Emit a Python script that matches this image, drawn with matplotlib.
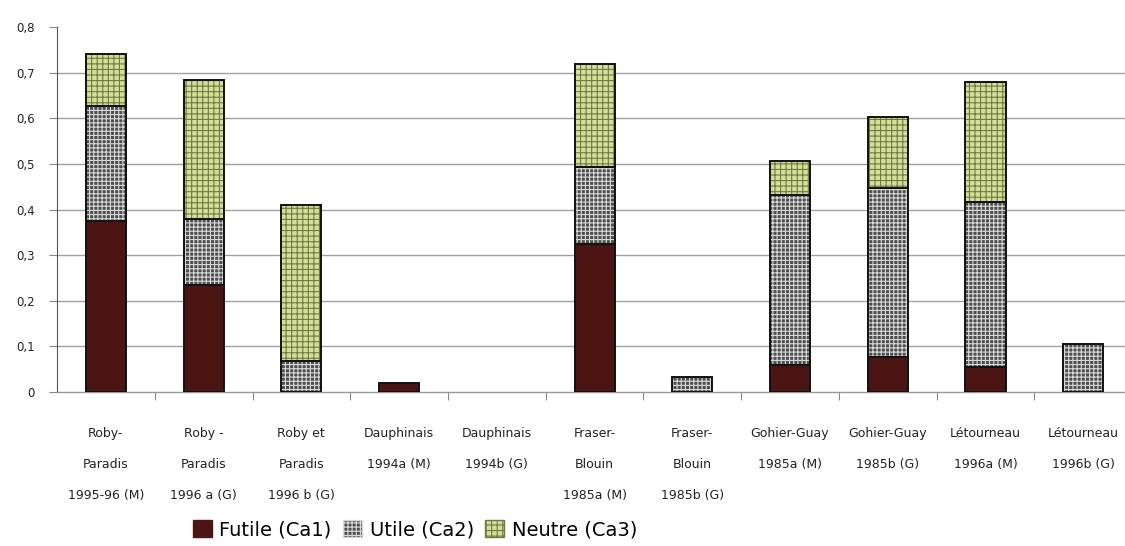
import numpy as np
import matplotlib.pyplot as plt
from matplotlib.patches import Patch

# studies on the x axis (three-line labels)
studies = [
    "Roby-\nParadis\n1995-96 (M)",
    "Roby -\nParadis\n1996 a (G)",
    "Roby et\nParadis\n1996 b (G)",
    "Dauphinais\n1994a (M)",
    "Dauphinais\n1994b (G)",
    "Fraser-\nBlouin\n1985a (M)",
    "Fraser-\nBlouin\n1985b (G)",
    "Gohier-Guay\n1985a (M)",
    "Gohier-Guay\n1985b (G)",
    "Létourneau\n1996a (M)",
    "Létourneau\n1996b (G)",
]

# stacked proportions per study
futile = [0.375, 0.235, 0.0, 0.02, 0.0, 0.325, 0.0, 0.06, 0.077, 0.055, 0.0]
utile = [0.252, 0.145, 0.068, 0.0, 0.0, 0.168, 0.032, 0.373, 0.37, 0.362, 0.105]
neutre = [0.114, 0.305, 0.342, 0.0, 0.0, 0.227, 0.0, 0.074, 0.156, 0.263, 0.0]

series_names = ["Futile (Ca1)", "Utile (Ca2)", "Neutre (Ca3)"]

C_FUT = "#4a1512"
C_UTI = "#4f4f4f"
C_NEU = "#d3df96"

plt.rcParams["font.family"] = ["DejaVu Sans"]
plt.rcParams["hatch.linewidth"] = 0.8

fig = plt.figure(figsize=(11.25, 5.46), dpi=100)
ax = fig.add_axes([0.0507, 0.282, 0.9556, 0.668])

x = np.arange(len(studies))
w = 0.41
f = np.array(futile)
u = np.array(utile)
n = np.array(neutre)


def stack(vals, base, face, hatch, hcol):
    # fill + hatch, then a plain black outline on top
    ax.bar(x, vals, w, bottom=base, color=face, edgecolor=hcol,
           hatch=hatch, linewidth=0, zorder=3)
    mask = vals > 0
    ax.bar(x[mask], vals[mask], w, bottom=base[mask], fill=False,
           edgecolor="#111111", linewidth=1.4, zorder=4)


stack(f, np.zeros_like(f), C_FUT, None, C_FUT)
stack(u, f, C_UTI, "++++", "#d8d8d8")
stack(n, f + u, C_NEU, "+++", "#6f7a45")

ax.set_xlim(-0.5, len(studies) - 0.5)
ax.set_ylim(0, 0.8)
ax.set_yticks(np.arange(0, 0.81, 0.1))
ax.set_yticklabels([f"{v:.1f}".replace(".", ",") if v else "0"
                    for v in np.arange(0, 0.81, 0.1)])
ax.yaxis.grid(True, color="#a0a0a0", linewidth=1.0, zorder=0)
ax.get_ygridlines()[-1].set_visible(False)
ax.get_ygridlines()[0].set_visible(False)

# boundary ticks as major, labels centred as minor
ax.set_xticks(np.arange(0.5, len(studies) - 0.5, 1))
ax.set_xticklabels([])
ax.set_xticks(x, minor=True)
ax.set_xticklabels(studies, minor=True, fontsize=9, color="#222222")
ax.tick_params(axis="x", which="major", length=6, color="#888888", direction="out")
ax.tick_params(axis="x", which="minor", length=0, pad=25)
for lab in ax.get_xticklabels(minor=True):
    lab.set_linespacing(2.8)
    lab.set_verticalalignment("top")
ax.tick_params(axis="y", length=6, color="#888888", labelsize=8.5,
               labelcolor="#222222", pad=10)

for s in ["top", "right"]:
    ax.spines[s].set_visible(False)
ax.spines["left"].set_color("#555555")
ax.spines["bottom"].set_color("#999999")
ax.spines["bottom"].set_linewidth(1.0)

handles = [
    Patch(facecolor=C_FUT, edgecolor=C_FUT),
    Patch(facecolor=C_UTI, edgecolor="#d8d8d8", hatch="++++"),
    Patch(facecolor=C_NEU, edgecolor="#6f7a45", hatch="+++"),
]
fig.legend(handles, series_names, loc="center", bbox_to_anchor=(0.369, 0.03),
           ncol=3, frameon=False, fontsize=14, handlelength=0.95,
           handleheight=1.0, handletextpad=0.4, columnspacing=0.6,
           borderpad=0.1)

fig.savefig("out.png", dpi=100)
